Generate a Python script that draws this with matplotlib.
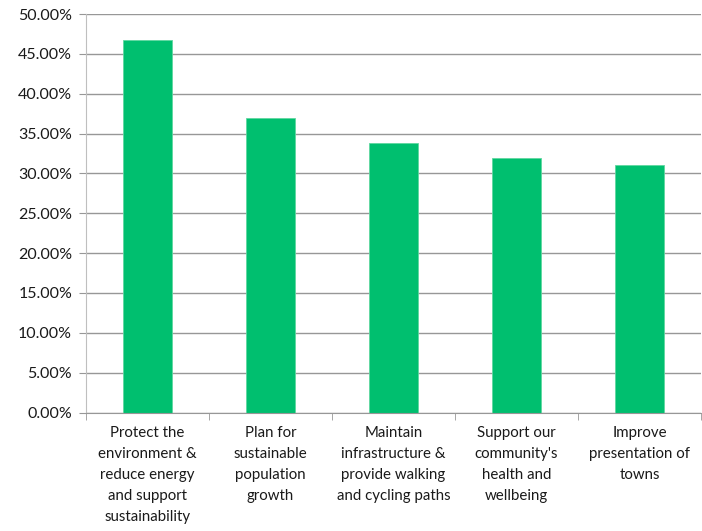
import matplotlib
matplotlib.use('Agg')
import matplotlib.pyplot as plt
from matplotlib.ticker import FuncFormatter, MultipleLocator
import numpy as np

plt.rcParams['font.family'] = ['Lato', 'DejaVu Sans']

categorie = ['Protect the\nenvironment &\nreduce energy\nand support\nsustainability',
             'Plan for\nsustainable\npopulation\ngrowth',
             'Maintain\ninfrastructure &\nprovide walking\nand cycling paths',
             "Support our\ncommunity's\nhealth and\nwellbeing",
             'Improve\npresentation of\ntowns']
valori = [46.7, 36.9, 33.8, 31.9, 31.1]

fig = plt.figure(figsize=(7.02, 5.31), dpi=100)
ax = fig.add_axes([86/702, 1-412.5/531, 615/702, (412.5-14)/531])

x = np.arange(len(categorie))
ax.bar(x, valori, width=0.4, color='#00BF6F', edgecolor='#5fd8a0', linewidth=0.6, zorder=3)

ax.set_xlim(-0.5, len(categorie)-0.5)
ax.set_ylim(0, 50)
ax.yaxis.set_major_locator(MultipleLocator(5))
ax.yaxis.set_major_formatter(FuncFormatter(lambda v, p: '%.2f%%' % v))
ax.grid(axis='y', color='#979797', linewidth=1, zorder=0)

ax.set_xticks(x)
ax.set_xticklabels(categorie, fontsize=10.8, linespacing=1.62, color='#1a1a1a')
ax.set_xticks(np.arange(len(categorie)+1)-0.5, minor=True)
ax.tick_params(axis='x', which='major', length=0, pad=10)
ax.tick_params(axis='x', which='minor', length=5, color='#979797', direction='out')
ax.tick_params(axis='y', length=5, color='#979797', labelsize=11.5, labelcolor='#1a1a1a', pad=5)

for s in ['top', 'right']:
    ax.spines[s].set_visible(False)
ax.spines['left'].set_color('#bfbfbf')
ax.spines['bottom'].set_color('#979797')
ax.spines['left'].set_zorder(4)
ax.spines['bottom'].set_zorder(4)

fig.savefig('out.png', dpi=100)
